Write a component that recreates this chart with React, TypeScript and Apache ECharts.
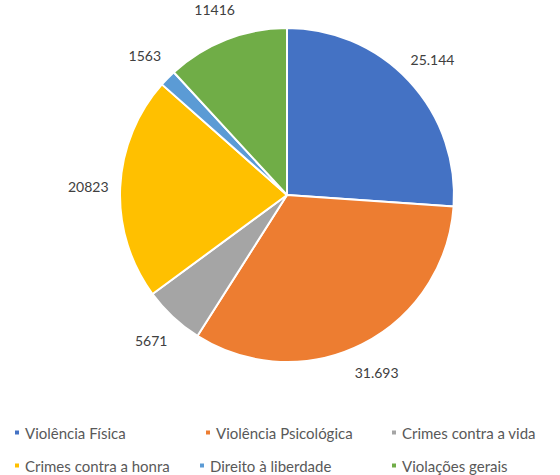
import React, { useEffect, useRef } from "react";
import * as echarts from "echarts";

const categories = [
  "Violência Física",
  "Violência Psicológica",
  "Crimes contra a vida",
  "Crimes contra a honra",
  "Direito à liberdade",
  "Violações gerais",
];
const values = [25144, 31693, 5671, 20823, 1563, 11416];
const valueLabels = ["25.144", "31.693", "5671", "20823", "1563", "11416"];
const colors = ["#4472C4", "#ED7D31", "#A5A5A5", "#FFC000", "#5B9BD5", "#70AD47"];

// legend layout: [left, top] per category
const legendPos: [number, number][] = [
  [13, 425],
  [204, 425],
  [390, 425],
  [13, 458],
  [198, 458],
  [390, 458],
];

export default function App() {
  const ref = useRef<HTMLDivElement>(null);
  useEffect(() => {
    document.body.style.margin = "0";
    const chart = echarts.init(ref.current!, null, { renderer: "svg" });
    const font = "Lato, 'Open Sans', sans-serif";
    chart.setOption({
      animation: false,
      color: colors,
      legend: categories.map((c, i) => ({
        data: [c],
        left: legendPos[i][0],
        top: legendPos[i][1],
        padding: 0,
        icon: "rect",
        itemWidth: 6,
        itemHeight: 6,
        selectedMode: false,
        textStyle: { fontFamily: font, fontSize: 15, color: "#595959" },
      })),
      series: [
        {
          type: "pie",
          center: [287, 195],
          radius: [0, 167],
          startAngle: 90,
          clockwise: true,
          label: { show: false },
          labelLine: { show: false },
          itemStyle: { borderColor: "#fff", borderWidth: 2 },
          data: categories.map((c, i) => ({ name: c, value: values[i] })),
        },
        {
          type: "pie",
          center: [287, 195],
          radius: [167, 225],
          startAngle: 90,
          clockwise: true,
          silent: true,
          legendHoverLink: false,
          itemStyle: { color: "rgba(0,0,0,0)" },
          label: {
            show: true,
            position: "inside",
            fontFamily: font,
            fontSize: 14,
            color: "#404040",
            formatter: (p: any) => valueLabels[p.dataIndex],
          },
          labelLine: { show: false },
          data: categories.map((c, i) => ({ name: c, value: values[i] })),
        },
      ],
    });
    return () => chart.dispose();
  }, []);
  return <div ref={ref} style={{ width: 560, height: 475 }} />;
}
